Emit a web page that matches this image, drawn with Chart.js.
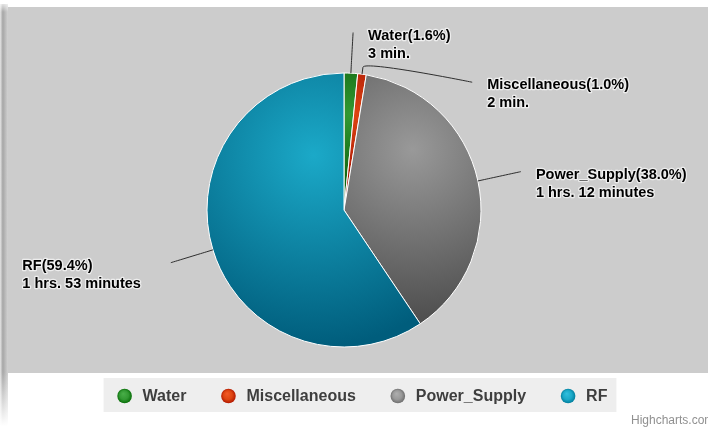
<!DOCTYPE html>
<html>
<head>
<meta charset="utf-8">
<script src="https://cdn.jsdelivr.net/npm/chart.js@4.4.1/dist/chart.umd.min.js"></script>
<style>
  html,body{margin:0;padding:0;background:#fff;}
  #wrap{position:relative;width:708px;height:428px;}
</style>
</head>
<body>
<div id="wrap"><canvas id="pie"></canvas></div>
<script>
// ===== data =====
const categories=['Water','Miscellaneous','Power_Supply','RF'];
const shares=[1.6,1.0,38.0,59.4];               // percent of total
const durations=['3 min.','2 min.','1 hrs. 12 minutes','1 hrs. 53 minutes'];
const creditText='Highcharts.com';

// ===== style =====
const colors=['#339933','#dd4411','#999999','#1ba9c8'];
const FONT='"Liberation Sans", Arial, Helvetica, sans-serif';
const LABEL_DIST=44, LABEL_GAP=53, LINE_H=18;

const shade=(hex,d)=>{
  const n=parseInt(hex.slice(1),16), cl=v=>Math.max(0,Math.min(255,v));
  return `rgb(${cl((n>>16)+d)},${cl(((n>>8)&255)+d)},${cl((n&255)+d)})`;
};
const darken=hex=>shade(hex,-76);

// radial fill per slice, relative to the slice bounding box (like the original)
function sliceFill(ctx){
  const chart=ctx.chart, a=chart.chartArea, i=ctx.dataIndex;
  if(!a) return colors[i];
  const cx=(a.left+a.right)/2, cy=(a.top+a.bottom)/2;
  const R=(Math.min(a.right-a.left,a.bottom-a.top)-1)/2;
  const total=shares.reduce((s,v)=>s+v,0);
  let cum=0; for(let k=0;k<i;k++) cum+=shares[k];
  const a0=-Math.PI/2+2*Math.PI*cum/total, a1=a0+2*Math.PI*shares[i]/total;
  const pts=[[cx,cy],[cx+R*Math.cos(a0),cy+R*Math.sin(a0)],[cx+R*Math.cos(a1),cy+R*Math.sin(a1)]];
  for(let k=-1;k<=3;k++){ const t=k*Math.PI/2; if(t>a0&&t<a1) pts.push([cx+R*Math.cos(t),cy+R*Math.sin(t)]); }
  const xs=pts.map(p=>p[0]), ys=pts.map(p=>p[1]);
  const x0=Math.min(...xs), x1=Math.max(...xs), y0=Math.min(...ys), y1=Math.max(...ys);
  const w=x1-x0, h=y1-y0;
  const g=chart.ctx.createRadialGradient(x0+0.5*w,y0+0.3*h,0,x0+0.5*w,y0+0.3*h,0.7*Math.max(w,h));
  g.addColorStop(0,colors[i]); g.addColorStop(1,darken(colors[i]));
  return g;
}

// ===== plot background, labels, legend, credit =====
const decor={
  id:'decor',
  beforeDraw(chart){
    const c=chart.ctx; c.save();
    // left shadow strip
    const gs=c.createLinearGradient(0,0,8,0);
    gs.addColorStop(0,'#e6e6e6'); gs.addColorStop(0.35,'#a6a6a6'); gs.addColorStop(0.8,'#c4c4c4'); gs.addColorStop(1,'#d2d2d2');
    c.fillStyle=gs; c.fillRect(0,4,8,422);
    const gf=c.createLinearGradient(0,372,0,426);
    gf.addColorStop(0,'rgba(255,255,255,0)'); gf.addColorStop(1,'rgba(255,255,255,1)');
    c.fillStyle=gf; c.fillRect(0,372,8,54);
    const gt=c.createLinearGradient(0,0,0,12);
    gt.addColorStop(0,'rgba(255,255,255,1)'); gt.addColorStop(1,'rgba(255,255,255,0)');
    c.fillStyle=gt; c.fillRect(0,0,8,12);
    // plot area
    c.fillStyle='#cccccc'; c.fillRect(8,7,700,366);
    c.restore();
  },
  afterDatasetsDraw(chart){
    const c=chart.ctx, meta=chart.getDatasetMeta(0);
    const items=meta.data.map((arc,i)=>{
      const p=arc.getProps(['x','y','startAngle','endAngle','outerRadius'],true);
      const mid=(p.startAngle+p.endAngle)/2, ux=Math.cos(mid), uy=Math.sin(mid);
      const R=p.outerRadius, D=R+LABEL_DIST;
      return {i,cx:p.x,cy:p.y,R,D,ux,uy,right:ux>=0,y:p.y+D*uy};
    });
    [true,false].forEach(side=>{
      const list=items.filter(o=>o.right===side).sort((a,b)=>a.y-b.y);
      for(let k=1;k<list.length;k++) if(list[k].y<list[k-1].y+LABEL_GAP) list[k].y=list[k-1].y+LABEL_GAP;
    });
    items.forEach(o=>{
      const dy=o.y-o.cy, dx=Math.sqrt(Math.max(0,o.D*o.D-dy*dy));
      o.x=o.cx+(o.right?dx:-dx);
      o.y=Math.max(o.y,chart.chartArea.top-40);
    });
    c.save();
    c.font=`bold 14.5px ${FONT}`; c.textBaseline='middle'; c.textAlign='left'; c.lineJoin='round';
    items.forEach(o=>{
      const ex=o.cx+o.R*o.ux, ey=o.cy+o.R*o.uy;
      const bx=o.cx+(o.R+7)*o.ux, by=o.cy+(o.R+7)*o.uy;
      const qx=o.cx+(o.R+14)*o.ux, qy=o.cy+(o.R+14)*o.uy;
      c.strokeStyle='#2e2e2e'; c.lineWidth=1;
      c.beginPath(); c.moveTo(o.x,o.y); c.bezierCurveTo(o.x,o.y,qx,qy,bx,by); c.lineTo(ex,ey); c.stroke();
      const lines=[`${categories[o.i]}(${shares[o.i].toFixed(1)}%)`, durations[o.i]];
      const maxW=Math.max(...lines.map(t=>c.measureText(t).width));
      const tx=o.right? o.x+15 : o.x-30-maxW;
      lines.forEach((t,k)=>{
        const ty=o.y+3+k*LINE_H;
        c.strokeStyle='rgba(255,255,255,0.65)'; c.lineWidth=2.5; c.strokeText(t,tx,ty);
        c.fillStyle='#000'; c.fillText(t,tx,ty);
      });
    });
    c.restore();
  },
  afterDraw(chart){
    const c=chart.ctx; c.save();
    // legend
    c.font=`bold 16px ${FONT}`; c.textBaseline='middle'; c.textAlign='left';
    const MARK=20, TXT_GAP=8, ITEM_GAP=32, LCX=361, LCY=396;
    const widths=categories.map(t=>MARK+TXT_GAP+c.measureText(t).width);
    const span=widths.reduce((s,v)=>s+v,0)+ITEM_GAP*(categories.length-1);
    let x=LCX-span/2;
    c.fillStyle='#eeeeee'; c.fillRect(x-11,LCY-18,span+20,34);
    categories.forEach((t,i)=>{
      const mx=x+MARK/2;
      const g=c.createRadialGradient(mx-1.5,LCY-2.5,0,mx,LCY,7.5);
      g.addColorStop(0,shade(colors[i],22)); g.addColorStop(0.6,colors[i]); g.addColorStop(1,shade(colors[i],-45));
      c.fillStyle=g; c.beginPath(); c.arc(mx,LCY,7.3,0,Math.PI*2); c.fill();
      c.fillStyle='#3e3e3e'; c.fillText(t,x+MARK+TXT_GAP,LCY+0.5);
      x+=widths[i]+ITEM_GAP;
    });
    // credit
    c.font=`12px ${FONT}`; c.fillStyle='#909090'; c.textBaseline='alphabetic';
    c.fillText(creditText,631,424);
    c.restore();
  }
};

new Chart(document.getElementById('pie'),{
  type:'pie',
  data:{ labels:categories, datasets:[{ data:shares, backgroundColor:sliceFill, borderColor:'#ffffff', borderWidth:1 }] },
  options:{
    responsive:true, maintainAspectRatio:false, animation:false,
    layout:{ padding:{ top:72.5, bottom:80.5, left:0, right:20 } },
    plugins:{ legend:{display:false}, tooltip:{enabled:false} }
  },
  plugins:[decor]
});
</script>
</body>
</html>
